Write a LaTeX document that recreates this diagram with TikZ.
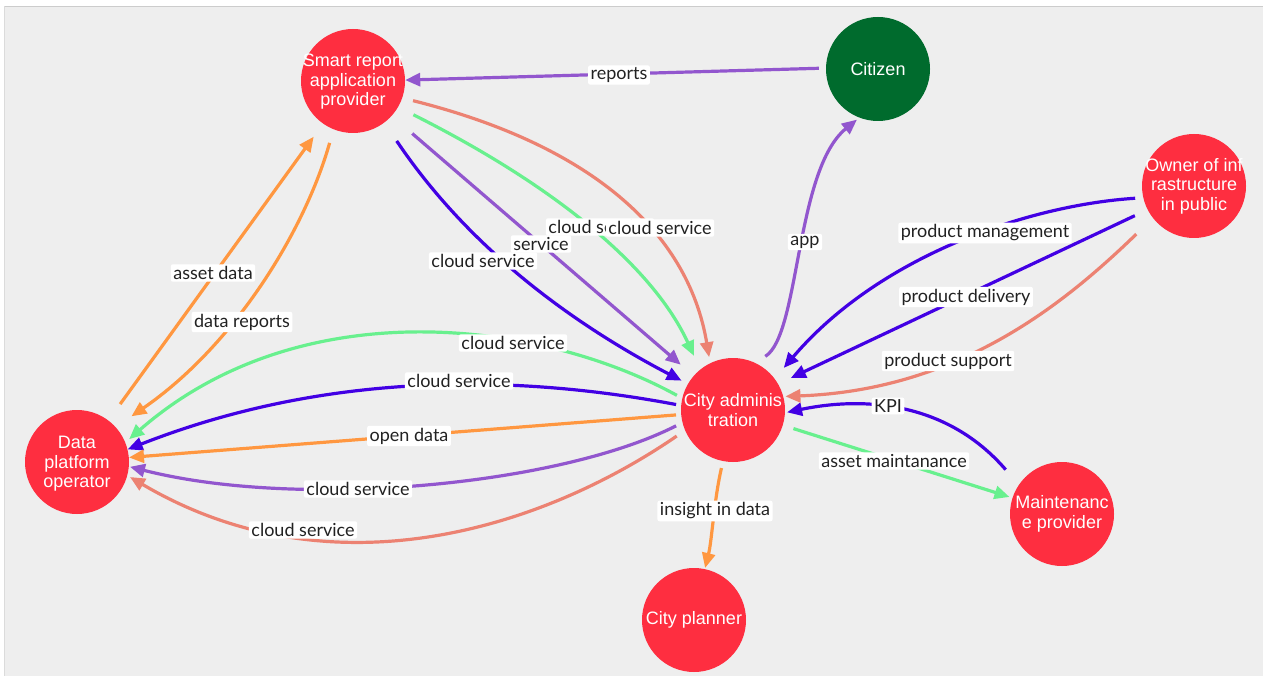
\documentclass[tikz,border=0pt]{standalone}
\usepackage{fontspec}
\setmainfont{Liberation Sans}
\newfontfamily\tagfont{Lato}
\usetikzlibrary{arrows.meta}

\definecolor{panel}{HTML}{EEEEEE}
\definecolor{actorred}{RGB}{254,46,64}
\definecolor{citizengreen}{RGB}{0,107,45}
\definecolor{flowpurple}{RGB}{146,86,206}
\definecolor{flowblue}{RGB}{66,0,228}
\definecolor{flowgreen}{RGB}{104,240,142}
\definecolor{flowsalmon}{RGB}{236,130,114}
\definecolor{floworange}{RGB}{255,151,64}
\definecolor{tagtext}{RGB}{34,34,34}

\begin{document}
\begin{tikzpicture}[x=1pt,y=-1pt,
  actor/.style={circle, fill=actorred, minimum size=104pt, inner sep=0pt},
  actortext/.style={text=white, align=center, inner sep=0pt,
    font=\fontsize{18}{19.5}\selectfont},
  flow/.style={line width=3.2pt, -{Triangle[length=15pt,width=13pt]}},
  tag/.style={fill=white, rounded corners=2pt, inner xsep=2.5pt, inner ysep=2pt,
    text=tagtext, font=\tagfont\fontsize{18}{20}\selectfont},
]
\useasboundingbox (0,0) rectangle (1263,676);
\fill[white] (0,0) rectangle (1263,676);
\fill[panel] (4,6) rectangle (1263,676);
\draw[black!20, line width=1.2pt] (4,6.5) -- (1263,6.5);
\draw[black!14, line width=0.8pt] (4.4,6) -- (4.4,676);

% actors
\node[actor, label={[actortext, yshift=-1pt]center:Smart report\\application\\provider}] (smart) at (353,81) {};
\node[actor, fill=citizengreen, label={[actortext]center:Citizen}] (citizen) at (878,69) {};
\node[actor, label={[actortext]center:Owner of inf\\rastructure\\in public}] (owner) at (1194,186) {};
\node[actor, label={[actortext]center:City adminis\\tration}] (city) at (733,410) {};
\node[actor, label={[actortext, yshift=-2pt]center:Data\\platform\\operator}] (data) at (77,462) {};
\node[actor, label={[actortext]center:Maintenanc\\e provider}] (maint) at (1062,514) {};
\node[actor, label={[actortext]center:City planner}] (planner) at (694,620) {};

% flows
\draw[flow, flowpurple, shorten <=7pt] (citizen.179) -- (smart.1);
\draw[flow, flowpurple, shorten <=12pt, shorten >=3pt] (city.65) .. controls (800,335) and (795,170) .. (citizen.249);

\draw[flow, floworange, shorten <=20pt, shorten >=16pt] (data.53) -- (smart.235);
\draw[flow, floworange, shorten <=14pt, shorten >=19pt] (smart.248) .. controls (305,230) and (235,345) .. (data.42);

\draw[flow, flowblue, shorten <=22pt, shorten >=7pt] (smart.307) .. controls (470,250) and (575,325) .. (city.150);
\draw[flow, flowpurple, shorten <=27pt, shorten >=17pt] (smart.318.6) -- (city.139.7);
\draw[flow, flowgreen, shorten <=17pt, shorten >=15pt] (smart.330.5) .. controls (563,190) and (655,271) .. (city.129.6);
\draw[flow, flowsalmon, shorten <=11pt, shorten >=6pt] (smart.341.6) .. controls (590,145) and (688,231) .. (city.116.6);

\draw[flow, flowgreen, shorten <=6pt, shorten >=5pt] (city.167.2) .. controls (540,320) and (300,290) .. (data.22.5);
\draw[flow, flowblue, shorten <=5pt] (city.175) .. controls (520,375) and (330,370) .. (data.14.3);
\draw[flow, floworange, shorten <=5pt] (city.185) -- (data.5.6);
\draw[flow, flowpurple, shorten <=7pt, shorten >=1pt] (city.194.7) .. controls (560,485) and (300,510) .. (data.355.7);
\draw[flow, flowsalmon, shorten <=10pt, shorten >=3pt] (city.203.7) .. controls (540,530) and (330,595) .. (data.345.2);

\draw[flow, flowgreen, shorten <=11pt, shorten >=3pt] (city.343.3) -- (maint.162);
\draw[flow, flowblue, shorten <=20pt, shorten >=2pt] (maint.146) .. controls (950,405) and (870,395) .. (city.357.9);
\draw[flow, floworange, shorten <=7pt, shorten >=1pt] (city.259.3) .. controls (714,500) and (712,540) .. (planner.78);

\draw[flow, flowblue, shorten <=8pt, shorten >=14pt] (owner.193.3) .. controls (1030,205) and (880,255) .. (city.37.6);
\draw[flow, flowblue, shorten <=14pt, shorten >=14pt] (owner.207) -- (city.30);
\draw[flow, flowsalmon, shorten <=23pt, shorten >=2pt] (owner.218.5) .. controls (1065,303) and (960,390) .. (city.15);

% flow tags
\node[tag] (tReports) at (619,75) {reports};
\node[tag] (tApp) at (805,242) {app};
\node[tag] (tAsset) at (213,273) {asset data};
\node[tag] (tDataRep) at (242,322) {data reports};
\node[tag] (tCloudA) at (483,261) {cloud service};
\node[tag] (tService) at (541,244) {service};
\node[tag] (tCloudB) at (600,227) {cloud service};
\node[tag] (tCloudC) at (660,228) {cloud service};
\node[tag] (tCloudD) at (513,343) {cloud service};
\node[tag] (tCloudE) at (459,381) {cloud service};
\node[tag] (tOpen) at (409,436) {open data};
\node[tag] (tCloudF) at (358,489) {cloud service};
\node[tag] (tCloudG) at (303,530) {cloud service};
\node[tag] (tMgmt) at (985,233) {product management};
\node[tag] (tDeliv) at (966,297) {product delivery};
\node[tag] (tSupp) at (948,361) {product support};
\node[tag] (tKPI) at (888,406) {KPI};
\node[tag] (tMaint) at (894,461) {asset maintanance};
\node[tag] (tInsight) at (715,511) {insight in data};
\end{tikzpicture}
\end{document}
